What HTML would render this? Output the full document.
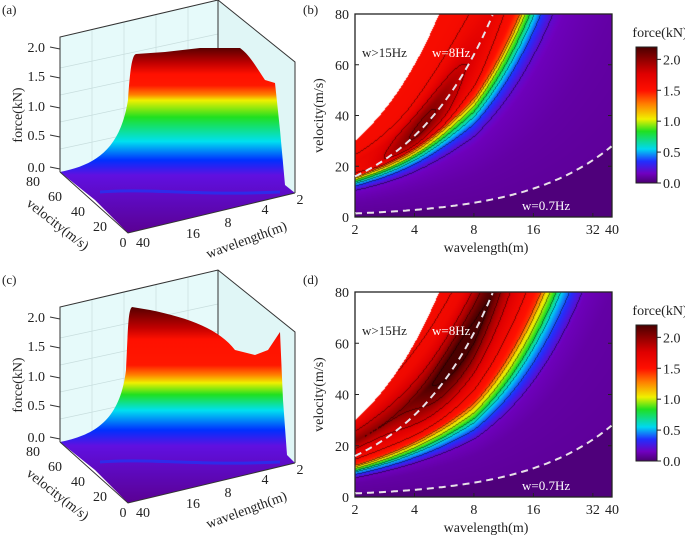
<!DOCTYPE html>
<html><head><meta charset="utf-8">
<style>
html,body{margin:0;padding:0;background:#fff;}
#root{position:relative;width:685px;height:539px;overflow:hidden;font-family:"Liberation Serif",serif;color:#222;}
svg text{font-family:"Liberation Serif",serif;fill:#222;}
canvas{position:absolute;}
</style></head>
<body>
<div id="root">
<svg id="s" width="685" height="539" style="position:absolute;left:0;top:0">
<defs>
<linearGradient id="gA" x1="0" y1="48" x2="0" y2="235" gradientUnits="userSpaceOnUse">
<stop offset="0" stop-color="#5a0000"/><stop offset="0.08" stop-color="#c00000"/><stop offset="0.14" stop-color="#ff1000"/>
<stop offset="0.2" stop-color="#ff1800"/><stop offset="0.25" stop-color="#ff8000"/><stop offset="0.28" stop-color="#f0f000"/><stop offset="0.37" stop-color="#20e020"/>
<stop offset="0.5" stop-color="#00e0f0"/><stop offset="0.6" stop-color="#0030ff"/><stop offset="0.68" stop-color="#6010e0"/>
<stop offset="1" stop-color="#5a0090"/></linearGradient>
<linearGradient id="gC" x1="0" y1="38" x2="0" y2="235" gradientUnits="userSpaceOnUse">
<stop offset="0" stop-color="#5a0000"/><stop offset="0.1" stop-color="#c00000"/><stop offset="0.16" stop-color="#ff1000"/>
<stop offset="0.29" stop-color="#ff1800"/><stop offset="0.34" stop-color="#ff8000"/><stop offset="0.38" stop-color="#f0f000"/><stop offset="0.44" stop-color="#20e020"/>
<stop offset="0.52" stop-color="#00e0f0"/><stop offset="0.62" stop-color="#0030ff"/><stop offset="0.7" stop-color="#6010e0"/>
<stop offset="1" stop-color="#5a0090"/></linearGradient>
<linearGradient id="cb" x1="0" y1="1" x2="0" y2="0">
<stop offset="0" stop-color="#4a0070"/><stop offset="0.07" stop-color="#7000c0"/><stop offset="0.16" stop-color="#2030ff"/>
<stop offset="0.25" stop-color="#00d8f0"/><stop offset="0.38" stop-color="#20e020"/><stop offset="0.47" stop-color="#f0f000"/>
<stop offset="0.58" stop-color="#ff8000"/><stop offset="0.68" stop-color="#ff1000"/><stop offset="0.8" stop-color="#e00000"/>
<stop offset="1" stop-color="#4a0000"/></linearGradient>
</defs>
</svg>
<canvas id="cB" width="257" height="203" style="left:355px;top:14px"></canvas>
<canvas id="cD" width="257" height="205" style="left:355px;top:292px"></canvas>
<svg id="o" width="685" height="539" style="position:absolute;left:0;top:0"></svg>
</div>
<script>
// data
var wavelengthTicks=[2,4,8,16,32,40];
var velocityTicks=[0,20,40,60,80];
var forceTicks=[0,0.5,1.0,1.5,2.0];
var freqStopsB=[0,0.7,2.0,3.5,4.0,4.5,4.9,5.3,5.6,5.9,6.5,8,9.5,15];
var forceStopsB=[0.02,0.08,0.1,0.14,0.2,0.35,0.55,0.85,1.05,1.4,1.55,1.65,1.58,1.55];
var peakB=[4.2,8,0.45];   // wavelength, frequency, extra force of dark ridge
var freqStopsD=[0,0.7,2.0,2.7,3.2,3.6,3.9,4.3,4.65,5.5,7,8,9.5,11,15];
var forceStopsD=[0.02,0.08,0.1,0.14,0.35,0.55,0.85,1.1,1.45,1.6,1.8,2.0,1.8,1.62,1.55];
var peakD=[6.5,8,0.35];
var dashFreqs=[8,0.7];
var cmapVals=[0,0.15,0.35,0.55,0.85,1.05,1.3,1.5,1.75,2.2];
var cmapCols=[[74,0,112],[112,0,192],[32,48,255],[0,216,240],[32,224,32],[240,240,0],[255,128,0],[255,16,0],[224,0,0],[74,0,0]];

var NS="http://www.w3.org/2000/svg";
function mk(p,tag,attrs){var e=document.createElementNS(NS,tag);for(var k in attrs)e.setAttribute(k,attrs[k]);p.appendChild(e);return e;}
function tx(p,x,y,t,anchor,size,rot){var e=mk(p,'text',{x:x,y:y,'font-size':size||13,'text-anchor':anchor||'start'});if(rot)e.setAttribute('transform','rotate('+rot+' '+x+' '+y+')');e.textContent=t;return e;}
var S=document.getElementById('s'),O=document.getElementById('o');

function interp(xs,ys,x){if(x<=xs[0])return ys[0];for(var i=1;i<xs.length;i++){if(x<=xs[i]){var t=(x-xs[i-1])/(xs[i]-xs[i-1]);return ys[i-1]+t*(ys[i]-ys[i-1]);}}return ys[ys.length-1];}
function cmap(v){for(var i=1;i<cmapVals.length;i++){if(v<=cmapVals[i]||i==cmapVals.length-1){var t=Math.max(0,Math.min(1,(v-cmapVals[i-1])/(cmapVals[i]-cmapVals[i-1])));var a=cmapCols[i-1],b=cmapCols[i];return [a[0]+t*(b[0]-a[0]),a[1]+t*(b[1]-a[1]),a[2]+t*(b[2]-a[2])];}}}

var PX=355,PW=257;
function xScale(l){return PX+PW*Math.log(l/2)/Math.log(20);}
function xInv(px){return 2*Math.pow(20,(px-PX)/PW);}

function drawContour(id,top,h,fs,vs,pk,label){
  var c=document.getElementById(id),ctx=c.getContext('2d'),img=ctx.createImageData(PW,h);
  var lev=[];
  for(var j=0;j<h;j++){var v=80*(1-(j+0.5)/h);
    for(var i=0;i<PW;i++){var l=xInv(PX+i+0.5);var f=v/l;var k=(j*PW+i)*4;
      if(f>15){img.data[k]=img.data[k+1]=img.data[k+2]=255;img.data[k+3]=255;lev.push(-1);continue;}
      var s=1/(1+0.18*Math.max(0,Math.log2(8/l)));
      var F=interp(fs,vs,f*s);
      var dl=Math.log2(l/pk[0]),df=f-pk[1];
      F+=pk[2]*Math.exp(-dl*dl/0.6)*Math.exp(-df*df/4);
      if(f<0.7)F=0.02;
      var col=cmap(F);img.data[k]=col[0];img.data[k+1]=col[1];img.data[k+2]=col[2];img.data[k+3]=255;
      lev.push(Math.floor(F/0.2));}}
  for(var j=1;j<h;j++)for(var i=1;i<PW;i++){var a=lev[j*PW+i];if(a<0)continue;var b=lev[j*PW+i-1],d=lev[(j-1)*PW+i];
    if((b>=0&&b!=a)||(d>=0&&d!=a)){var k=(j*PW+i)*4;img.data[k]*=0.5;img.data[k+1]*=0.5;img.data[k+2]*=0.5;}}
  ctx.putImageData(img,0,0);
  var g=mk(O,'g',{});
  function yS(v){return top+h*(1-v/80);}
  mk(g,'rect',{x:PX,y:top,width:PW,height:h,fill:'none',stroke:'#222','stroke-width':1.3});
  dashFreqs.forEach(function(fq){var d='';for(var l=2;l<=40.01;l*=1.02){var v=fq*l;if(v>80)break;d+=(d?'L':'M')+xScale(l).toFixed(1)+','+yS(v).toFixed(1);}
    var p=mk(g,'path',{d:d,fill:'none',stroke:'#e8e0e8','stroke-width':2,'stroke-dasharray':'7,5'});
    });
  wavelengthTicks.forEach(function(l){var x=xScale(l);mk(g,'line',{x1:x,x2:x,y1:top+h,y2:top+h-4,stroke:'#222'});
    var t=tx(g,x,top+h+17,String(l),'middle',14);});
  velocityTicks.forEach(function(v){var y=yS(v);mk(g,'line',{x1:PX,x2:PX+4,y1:y,y2:y,stroke:'#222'});mk(g,'line',{x1:PX+PW,x2:PX+PW-4,y1:y,y2:y,stroke:'#222'});
    var t=tx(g,PX-6,y+5,String(v),'end',14);});
  var t1=tx(g,486,top+h+35,'wavelength(m)','middle',14);
  var t2=tx(g,323,top+h/2,'velocity(m/s)','middle',14,-90);
  var t3=tx(g,362,top+43,'w>15Hz','start',13);
  var t4=tx(g,432,top+43,'w=8Hz','start',13);t4.style.fill='#fff';
  var t5=tx(g,522,top+h-7,'w=0.7Hz','start',13);t5.style.fill='#fff';
  var cbTop=top+33,cbBot=top+169;
  function cS(v){return cbBot-(cbBot-cbTop)*v/2.2;}
  var cb=mk(g,'rect',{x:636,y:cbTop,width:21,height:cbBot-cbTop,fill:'url(#cb)',stroke:'#222'});
  
  forceTicks.forEach(function(v){var y=cS(v);mk(g,'line',{x1:657,x2:661,y1:y,y2:y,stroke:'#222'});
    var t=tx(g,663,y+5,v.toFixed(1),'start',14);});
  var t6=tx(g,660,top+23,'force(kN)','middle',14);
}
drawContour('cB',14,203,freqStopsB,forceStopsB,peakB,'panel-b');
drawContour('cD',292,205,freqStopsD,forceStopsD,peakD,'panel-d');

function draw3D(dy,grad,topPath,label){
  var g=mk(S,'g',{transform:'translate(0,'+dy+')',});
  mk(g,'polygon',{points:'60,37 218,0 218,150 60,172',fill:'#e6fafa',stroke:'none'});
  mk(g,'polygon',{points:'218,0 295,62 295,193 218,150',fill:'#e0f6f6',stroke:'none'});
  for(var i=1;i<5;i++){var y=37+i*27;mk(g,'line',{x1:60,y1:y+4,x2:218,y2:y-30,stroke:'#c8dede','stroke-width':0.7});}
  for(var i=1;i<5;i++){var x=60+i*32;mk(g,'line',{x1:x,y1:37-i*7.4,x2:x,y2:172-i*4.4,stroke:'#c8dede','stroke-width':0.7});}
  mk(g,'polyline',{points:'60,172 60,37 218,0 295,62 295,193',fill:'none',stroke:'#333','stroke-width':1});
  mk(g,'line',{x1:218,y1:0,x2:218,y2:150,stroke:'#333','stroke-width':1});
  var s=mk(g,'path',{d:topPath,fill:'url(#'+grad+')',stroke:'none'});
  
  mk(g,'path',{d:'M100,192 C150,188 200,196 280,192',fill:'none',stroke:'#1040ff','stroke-width':3,opacity:0.6});
  mk(g,'polyline',{points:'60,172 128,233 295,193',fill:'none',stroke:'#333','stroke-width':1});
  var vt=[[33,186,'80'],[55,201,'60'],[78,216,'40'],[100,231,'20'],[123,247,'0']];
  vt.forEach(function(a){var t=tx(g,a[0],a[1],a[2],'middle',14);});
  var wt=[[143,247,'40'],[193,238,'16'],[228,227,'8'],[265,214,'4'],[300,204,'2']];
  wt.forEach(function(a){var t=tx(g,a[0],a[1],a[2],'middle',14);});
  [[2,52],[1.5,81],[1,111],[0.5,140],[0,172]].forEach(function(a){var t=tx(g,45,a[1],a[0].toFixed(1),'end',14);mk(g,'line',{x1:50,x2:60,y1:a[1]-5,y2:a[1]-3,stroke:'#333'});});
  var t=tx(g,22,115,'force(kN)','middle',14,-90);
  t=tx(g,55,228,'velocity(m/s)','middle',14,38);
  t=tx(g,248,244,'wavelength(m)','middle',14,-20);
}
draw3D(0,'gA','M60,172 C95,165 120,150 128,100 C130,70 132,55 136,54 L165,52 L200,48 L240,48 C250,55 258,70 265,80 L275,83 L280,130 L285,185 L295,193 L128,233 L95,200 L60,172 Z','surface-plot-a');
draw3D(270,'gC','M60,172 C95,165 120,150 126,100 C128,60 128,40 132,37 L150,40 C190,48 220,60 235,80 L255,85 L268,80 L280,62 L283,130 L287,185 L295,193 L128,233 L95,200 L60,172 Z','surface-plot-c');
[['(a)',2,14],['(b)',303,14],['(c)',2,284],['(d)',303,284]].forEach(function(a){var t=tx(S,a[1],a[2],a[0],'start',13);});
</script>
</body></html>
